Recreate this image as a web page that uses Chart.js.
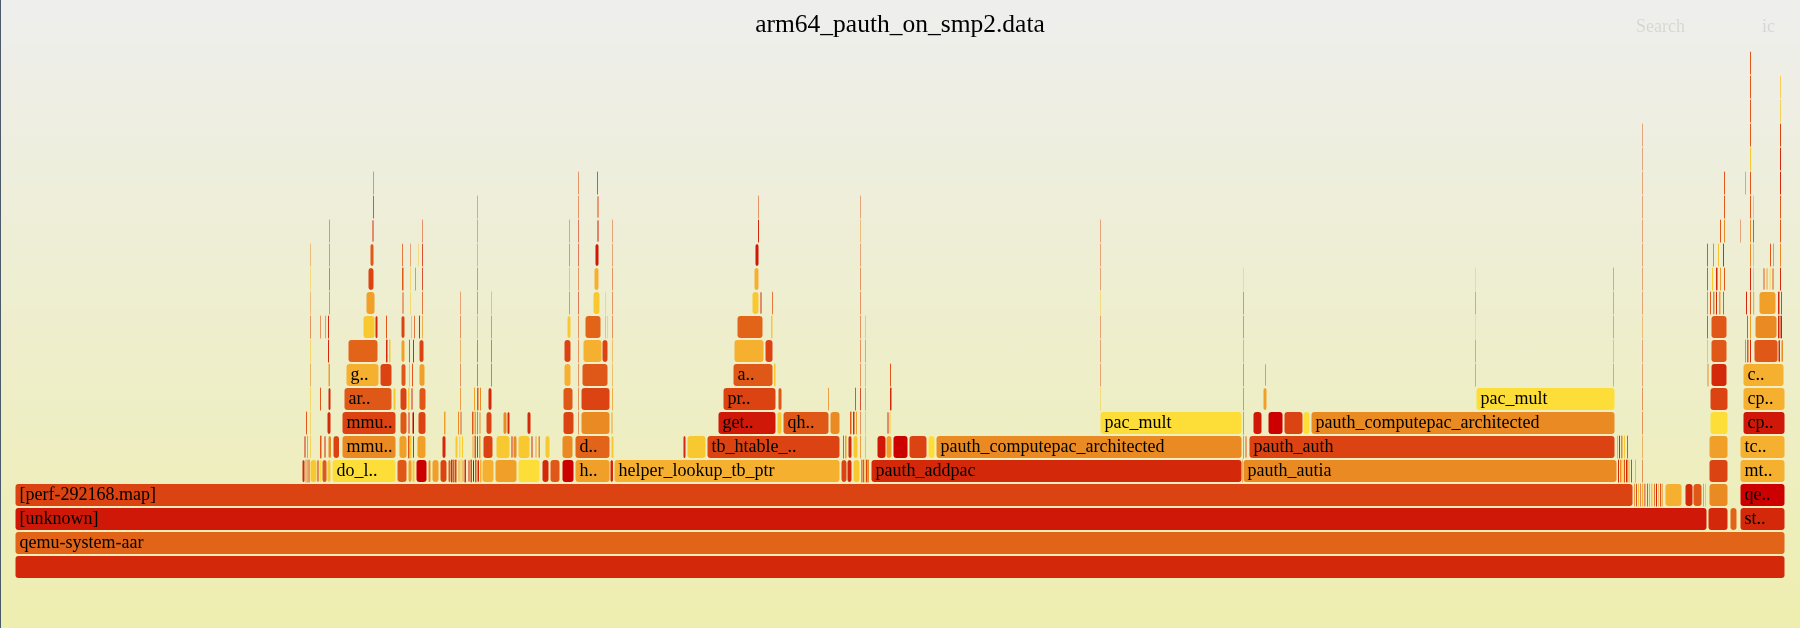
<!DOCTYPE html>
<html>
<head>
<meta charset="utf-8">
<title>arm64_pauth_on_smp2.data</title>
<script src="https://cdn.jsdelivr.net/npm/chart.js@4.4.1/dist/chart.umd.min.js"></script>
<style>
  html, body { margin: 0; padding: 0; background: #eeeeb0; }
  #wrap { position: relative; width: 1800px; height: 628px; }
  #flame { display: block; background: linear-gradient(to bottom, #eeeeee, #eeeeb0); }
  #edge { position: absolute; left: 0; top: 0; width: 1px; height: 628px; background: #4b5968; }
</style>
</head>
<body>
<div id="wrap">
  <canvas id="flame" width="1800" height="628"></canvas>
  <div id="edge"></div>
</div>
<script>
// Flame graph of perf samples (total = 1770 samples)
const totalSamples = 1770;
const chartTitle = 'arm64_pauth_on_smp2.data';

// one array per stack depth, each frame: [first sample, sample count, name]
const depth0 = [[0, 1770, '']];
const depth1 = [[0, 1770, 'qemu-system-aar']];
const depth2 = [[0, 1692, '[unknown]'], [1693, 20, ''], [1715, 7, ''], [1725, 45, 'st..']];
const depth3 = [
    [0, 1618, '[perf-292168.map]'], [1619, 0.8, ''], [1621, 0.8, ''], [1623, 1, ''], [1625, 0.6, ''],
    [1627, 1.2, ''], [1629.5, 0.8, ''], [1632, 1, ''], [1634, 0.7, ''], [1636, 1.5, ''],
    [1639, 0.8, ''], [1641, 1, ''], [1643, 0.6, ''], [1645, 1.2, ''], [1647, 0.6, ''],
    [1650, 17, ''], [1670, 8, ''], [1678, 9, ''], [1688, 0.8, ''], [1690, 1, ''],
    [1694, 19, ''], [1725, 45, 'qe..']
];
const depth4 = [
    [287, 3, ''], [290.5, 1, ''], [292, 1, ''], [293.5, 1, ''], [295, 7, ''],
    [302, 2, ''], [304, 3, ''], [307, 5, ''], [312, 4, ''], [317, 64, 'do_l..'],
    [382, 10, ''], [393, 4, ''], [397, 3, ''], [401, 11, ''], [413, 3, ''],
    [417, 7, ''], [425, 7, ''], [433, 3, ''], [436, 1.5, ''], [438, 1.5, ''],
    [440, 1.5, ''], [443, 2, ''], [445.5, 1, ''], [447, 2, ''], [449.5, 1.5, ''],
    [453, 2, ''], [455.5, 1.5, ''], [457.5, 2, ''], [460, 1.5, ''], [462, 2.5, ''],
    [465, 1.5, ''], [467, 12, ''], [480, 22, ''], [503, 22, ''], [527, 7, ''],
    [535, 10, ''], [547, 12, ''], [560, 35, 'h..'], [595, 3.5, ''], [599, 226, 'helper_lookup_tb_ptr'],
    [826, 6, ''], [832, 5, ''], [838, 7, ''], [846, 1, ''], [847.5, 1.5, ''],
    [849.5, 1, ''], [851, 1.5, ''], [853, 1, ''], [856, 371, 'pauth_addpac'], [1227.2, 0.6, ''],
    [1228, 374, 'pauth_autia'], [1603, 1, ''], [1605, 1.5, ''], [1607.5, 1, ''], [1609, 1, ''],
    [1611, 1.5, ''], [1613.5, 1, ''], [1616, 1, ''], [1620, 0.6, ''], [1627, 0.6, ''],
    [1694, 19, ''], [1725, 45, 'mt..']
];
const depth5 = [
    [289, 2, ''], [292, 0.8, ''], [295, 0.7, ''], [305, 1.5, ''], [309, 2, ''],
    [313, 3.5, ''], [318, 6.5, ''], [327, 54, 'mmu..'], [384, 8, ''], [393, 1.5, ''],
    [395, 1.5, ''], [397.5, 2, ''], [402, 9, ''], [427, 4, ''], [440, 3, ''],
    [443.5, 2.5, ''], [446.5, 2, ''], [457, 2, ''], [459.5, 1.5, ''], [461.5, 2, ''],
    [464, 1.5, ''], [468, 10, ''], [481, 14, ''], [496, 2, ''], [498, 4, ''],
    [503, 12, ''], [516, 2, ''], [520, 2, ''], [523, 2.5, ''], [530, 5, ''],
    [547, 11, ''], [560, 35, 'd..'], [596, 3, ''], [668, 3, ''], [672, 19, ''],
    [692, 133, 'tb_htable_..'], [828, 1, ''], [830, 1.5, ''], [833, 4, ''], [838, 5, ''],
    [845, 0.8, ''], [850, 0.6, ''], [862, 9, ''], [871, 6, ''], [878, 15, ''],
    [894, 18, ''], [913, 7, ''], [921, 306, 'pauth_computepac_architected'], [1228, 0.6, ''], [1230, 2, ''],
    [1234, 366, 'pauth_auth'], [1602, 1, ''], [1604, 1, ''], [1606, 1.5, ''], [1609, 1, ''],
    [1612, 1, ''], [1627, 0.6, ''], [1694, 19, ''], [1725, 45, 'tc..']
];
const depth6 = [
    [291, 1, ''], [295, 0.6, ''], [312, 4, ''], [327, 54, 'mmu..'], [385, 7, ''],
    [393, 2, ''], [397, 2.5, ''], [403, 8, ''], [429, 1.5, ''], [443, 1, ''],
    [445.5, 1, ''], [457, 1.5, ''], [459.5, 1.5, ''], [462, 0.8, ''], [464, 2, ''],
    [471, 6, ''], [488, 4, ''], [492, 3, ''], [512, 4, ''], [548, 11, ''],
    [563, 0.6, ''], [566, 29, ''], [596, 2, ''], [703, 58, 'get..'], [762, 5, ''],
    [768, 46, 'qh..'], [815, 10, ''], [835, 1.5, ''], [838, 1.5, ''], [841, 1, ''],
    [845, 0.6, ''], [850, 0.5, ''], [872, 2, ''], [874, 2, ''], [1085, 142, 'pac_mult'],
    [1228, 0.6, ''], [1238, 9, ''], [1253, 15, ''], [1269, 19, ''], [1288, 7, ''],
    [1296, 304, 'pauth_computepac_architected'], [1627, 0.6, ''], [1695, 18, ''], [1728, 42, 'cp..']
];
const depth7 = [
    [295, 0.6, ''], [305, 1, ''], [313, 3, ''], [329, 48, 'ar..'], [378, 3, ''],
    [385, 7, ''], [393, 1.5, ''], [396, 2, ''], [404, 7, ''], [445, 0.8, ''],
    [459, 1, ''], [462, 1.5, ''], [465, 1, ''], [473, 4, ''], [548, 10, ''],
    [563, 0.6, ''], [566, 29, ''], [597, 0.8, ''], [708, 53, 'pr..'], [763, 4, ''],
    [813, 0.8, ''], [840, 1, ''], [845, 0.8, ''], [850, 0.5, ''], [875, 1.5, ''],
    [1085, 0.5, ''], [1228, 0.6, ''], [1248, 4, ''], [1461, 139, 'pac_mult'], [1627, 0.6, ''],
    [1695, 18, ''], [1728, 42, 'cp..']
];
const depth8 = [
    [295, 0.6, ''], [313.5, 1.5, ''], [331, 33, 'g..'], [365, 12, ''], [386, 5, ''],
    [394, 1, ''], [397, 1, ''], [404, 6, ''], [445, 0.6, ''], [462, 0.8, ''],
    [476, 0.6, ''], [549, 7, ''], [563, 0.6, ''], [567, 26, ''], [597, 0.6, ''],
    [718, 40, 'a..'], [759, 1.5, ''], [845, 0.6, ''], [850, 0.5, ''], [875, 1, ''],
    [1085, 0.5, ''], [1228, 0.6, ''], [1249.5, 2, ''], [1460, 0.5, ''], [1598, 0.5, ''],
    [1627, 0.5, ''], [1692.5, 1, ''], [1696, 16, ''], [1728, 41, 'c..']
];
const depth9 = [
    [295, 0.6, ''], [313, 1, ''], [333, 30, ''], [371, 1.5, ''], [374, 1.5, ''],
    [386, 4, ''], [394, 1, ''], [398, 1, ''], [404, 5, ''], [445, 0.6, ''],
    [462, 0.8, ''], [476, 0.6, ''], [549, 7, ''], [563, 0.6, ''], [568, 19, ''],
    [587, 6, ''], [597, 0.6, ''], [719, 30, ''], [750, 8, ''], [845, 0.6, ''],
    [850, 0.5, ''], [1085, 0.5, ''], [1228, 0.6, ''], [1460, 0.5, ''], [1598, 0.5, ''],
    [1627, 0.5, ''], [1692, 1, ''], [1696, 16, ''], [1730, 1, ''], [1732, 1.5, ''],
    [1735, 1, ''], [1739, 24, ''], [1763, 2.5, ''], [1766, 2.5, '']
];
const depth10 = [
    [295, 0.6, ''], [305, 0.6, ''], [310, 0.8, ''], [313, 1, ''], [348, 12, ''],
    [360, 3, ''], [371, 1, ''], [386, 4, ''], [396, 1, ''], [399, 0.8, ''],
    [404, 1, ''], [407, 0.8, ''], [445, 0.6, ''], [462, 0.6, ''], [476, 0.6, ''],
    [552, 4, ''], [563, 0.6, ''], [570, 16, ''], [590, 1, ''], [592, 1, ''],
    [597, 0.6, ''], [722, 26, ''], [756, 1.5, ''], [845, 0.6, ''], [850, 0.5, ''],
    [1085, 0.5, ''], [1228, 0.6, ''], [1460, 0.5, ''], [1598, 0.5, ''], [1627, 0.5, ''],
    [1692, 1, ''], [1696, 16, ''], [1732, 1, ''], [1735, 1, ''], [1740, 22, ''],
    [1763, 1.5, ''], [1765.5, 1.5, '']
];
const depth11 = [
    [295, 0.5, ''], [314, 0.6, ''], [351, 9, ''], [387, 2, ''], [395, 0.6, ''],
    [407, 0.8, ''], [445, 0.5, ''], [462, 0.6, ''], [476, 0.5, ''], [554, 0.6, ''],
    [563, 0.6, ''], [578, 7, ''], [590, 0.6, ''], [597, 0.6, ''], [737, 7, ''],
    [745, 2, ''], [757, 0.8, ''], [845, 0.6, ''], [1085, 0.5, ''], [1228, 0.6, ''],
    [1460, 0.5, ''], [1598, 0.5, ''], [1627, 0.5, ''], [1692, 1, ''], [1695, 1, ''],
    [1698, 1.5, ''], [1701, 1, ''], [1704, 1.5, ''], [1708, 1, ''], [1731, 1, ''],
    [1735, 1, ''], [1738, 1.2, ''], [1744, 17, ''], [1763, 1.5, ''], [1766, 1, '']
];
const depth12 = [
    [295, 0.5, ''], [314, 0.6, ''], [353, 6, ''], [387, 1.5, ''], [395, 0.6, ''],
    [400, 0.6, ''], [407, 0.8, ''], [462, 0.6, ''], [554, 0.6, ''], [563, 0.6, ''],
    [579, 5, ''], [597, 0.6, ''], [739, 5, ''], [845, 0.6, ''], [1085, 0.5, ''],
    [1228, 0.5, ''], [1460, 0.5, ''], [1598, 0.5, ''], [1627, 0.5, ''], [1692, 1, ''],
    [1697, 1, ''], [1701, 1.5, ''], [1705, 1, ''], [1709, 1, ''], [1735, 1, ''],
    [1738, 1, ''], [1748, 2, ''], [1751, 2, ''], [1754, 2, ''], [1757, 2, ''],
    [1765, 1, '']
];
const depth13 = [
    [295, 0.5, ''], [314, 0.6, ''], [355, 4, ''], [387, 0.8, ''], [395, 0.5, ''],
    [403, 0.5, ''], [407, 0.8, ''], [462, 0.6, ''], [554, 0.6, ''], [563, 0.6, ''],
    [580, 4, ''], [597, 0.5, ''], [740, 4, ''], [845, 0.5, ''], [1085, 0.5, ''],
    [1627, 0.5, ''], [1692, 1, ''], [1698, 1, ''], [1703, 1, ''], [1708, 1, ''],
    [1735, 1, ''], [1738, 1, ''], [1755, 1, ''], [1758, 1, ''], [1765, 1, '']
];
const depth14 = [
    [314, 0.6, ''], [357, 2, ''], [407, 0.6, ''], [462, 0.5, ''], [554, 0.5, ''],
    [563, 0.6, ''], [582, 2, ''], [597, 0.5, ''], [743, 1, ''], [845, 0.5, ''],
    [1085, 0.5, ''], [1627, 0.5, ''], [1705, 1, ''], [1709, 1, ''], [1725, 0.5, ''],
    [1735, 1, ''], [1738, 1, ''], [1765, 1, '']
];
const depth15 = [
    [358, 1, ''], [462, 0.5, ''], [563, 0.6, ''], [582, 2, ''], [743, 0.6, ''],
    [845, 0.5, ''], [1627, 0.5, ''], [1709, 1, ''], [1735, 1, ''], [1738, 1, ''],
    [1765, 1, '']
];
const depth16 = [
    [358, 0.6, ''], [563, 0.6, ''], [582, 1, ''], [1627, 0.5, ''], [1709, 1, ''],
    [1730, 0.5, ''], [1735, 1, ''], [1765, 1, '']
];
const depth17 = [[1627, 0.5, ''], [1735, 1, ''], [1765, 1, '']];
const depth18 = [[1627, 0.5, ''], [1735, 1, ''], [1765, 1, '']];
const depth19 = [[1735, 1, ''], [1765, 0.8, '']];
const depth20 = [[1735, 1, ''], [1765, 0.8, '']];
const depth21 = [[1735, 1, '']];

const depths = [
    depth0, depth1, depth2, depth3, depth4, depth5, depth6, depth7, depth8, depth9, depth10,
    depth11, depth12, depth13, depth14, depth15, depth16, depth17, depth18, depth19, depth20, depth21
];

// colour key of each frame, one letter per frame, same order as above
const tints = [
    'r',
    'n',
    'Rrnr',
    'dorydareoyerAeoareoyok',
    'roadyrYeyYeAykoAderedAyorrdkeraaAYrekAradryoeadorooroyeradoeda',
    'royerodoAeyrAryYyAerAdyroyrAoyonyrydeAryoARAkdYoeedaroyeoAa',
    'eyrderkdAoeeAeodorrdeoARyeoerAeAryYeRkdYoeYR',
    'yereydyreoAeoreedAdeoereryeAYeda',
    'oAadeyeAeeraeeAeyeoeeeAeeeora',
    'yrnryAerdoerdeadAadeeeoeoeyeoerero',
    'eeoryredyerAeoeyenyYenyeAeeyeoeeeAorR',
    'oeAeyeeeoeryyeyreeyeeeeoeorAereaArd',
    'yrdeyereAeaeaeeyyeeeyrAeryeAYer',
    'oeeeeyroerReReeeeoyroyeAo',
    'ereeerReroeeeoeoee',
    'eeedeeeeeye',
    'eeeeeeer',
    'eyr',
    'eed',
    'ey',
    'ey',
    'e'
];

// hot flame graph palette
const palette = {
    Y: 'rgb(253,222,56)',
    y: 'rgb(248,200,48)',
    a: 'rgb(245,176,48)',
    A: 'rgb(240,160,40)',
    o: 'rgb(234,138,34)',
    n: 'rgb(225,100,25)',
    e: 'rgb(224,88,24)',
    d: 'rgb(219,68,18)',
    r: 'rgb(212,40,10)',
    R: 'rgb(208,24,8)',
    k: 'rgb(204,0,0)'
};

// build the floating bars: one per frame
const frames = [];
depths.forEach((row, level) => {
    row.forEach((f, i) => {
        frames.push({
            x: [f[0], f[0] + f[1]],
            y: String(level),
            name: f[2],
            tint: tints[level][i] || 'e'
        });
    });
});

// frame names, cut down with '..' when they do not fit
const frameLabels = {
    id: 'frameLabels',
    afterDatasetsDraw(chart) {
        const ctx = chart.ctx;
        const meta = chart.getDatasetMeta(0);
        const data = chart.data.datasets[0].data;
        ctx.save();
        ctx.font = '18px "Liberation Serif", serif';
        ctx.fillStyle = '#000';
        ctx.textBaseline = 'alphabetic';
        meta.data.forEach((bar, i) => {
            const name = data[i].name;
            if (!name) return;
            const { x, base, y } = bar.getProps(['x', 'base', 'y'], true);
            const left = Math.min(x, base);
            const room = Math.abs(x - base) - 4.5;
            if (room < 21) return;
            let text = name;
            if (ctx.measureText(text).width > room) {
                let n = name.length - 2;
                while (n > 0 && ctx.measureText(name.slice(0, n) + '..').width > room) n--;
                if (n <= 0) return;
                text = name.slice(0, n) + '..';
            }
            ctx.fillText(text, left + 4.5, y + 4.5);
        });
        ctx.restore();
    }
};

// title plus the faint search / ignore-case controls
const header = {
    id: 'header',
    afterDraw(chart) {
        const ctx = chart.ctx;
        ctx.save();
        ctx.textBaseline = 'alphabetic';
        ctx.font = '25.5px "Liberation Serif", serif';
        ctx.fillStyle = '#000';
        ctx.textAlign = 'center';
        ctx.fillText(chartTitle, chart.width / 2, 32);
        ctx.font = '18px "Liberation Serif", serif';
        ctx.fillStyle = 'rgba(0,0,0,0.1)';
        ctx.textAlign = 'left';
        ctx.fillText('Search', chart.width - 164, 32);
        ctx.fillText('ic', chart.width - 38, 32);
        ctx.restore();
    }
};

const ctx = document.getElementById('flame').getContext('2d');
const flameChart = new Chart(ctx, {
    type: 'bar',
    data: {
        labels: depths.map((_, i) => String(i)),
        datasets: [{
            data: frames,
            backgroundColor: (c) => palette[c.raw.tint],
            borderWidth: 0,
            borderRadius: 3,
            borderSkipped: false,
            barThickness: 23,
            inflateAmount: (c) => (c.raw.x[1] - c.raw.x[0] >= 2 ? -0.5 : 0)
        }]
    },
    options: {
        indexAxis: 'y',
        responsive: false,
        devicePixelRatio: 1,
        animation: false,
        events: [],
        layout: {
            padding: { left: 15, right: 15, top: 51, bottom: 49 }
        },
        scales: {
            x: { type: 'linear', min: 0, max: totalSamples, display: false },
            y: { type: 'category', reverse: true, display: false }
        },
        plugins: {
            legend: { display: false },
            tooltip: { enabled: false },
            title: { display: false }
        }
    },
    plugins: [frameLabels, header]
});
</script>
</body>
</html>
